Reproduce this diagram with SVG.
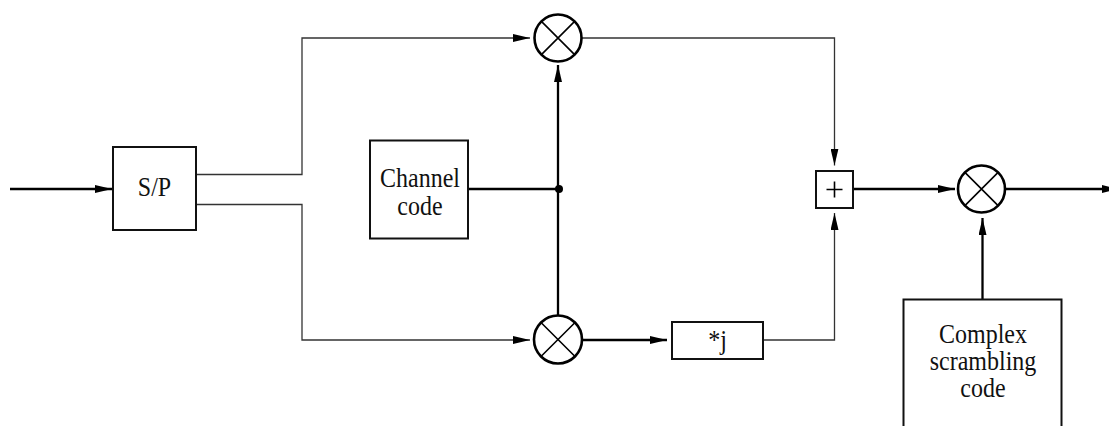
<svg xmlns="http://www.w3.org/2000/svg" width="1109" height="426" viewBox="0 0 1109 426">
<style>
.box{fill:#fff;stroke:#111;stroke-width:2}
.mul{fill:#fff;stroke:#000;stroke-width:2.6}
.x{stroke:#000;stroke-width:1.6}
.thick{fill:none;stroke:#000;stroke-width:2.3}
.thin{fill:none;stroke:#333;stroke-width:1.3}
text{font-family:"Liberation Serif","Times New Roman",serif;font-size:24px;fill:#111;text-anchor:middle}
</style>
<defs>
<marker id="ah" viewBox="0 0 17 8" refX="17" refY="4" markerWidth="17" markerHeight="8" markerUnits="userSpaceOnUse" orient="auto">
<path d="M0,0 L17,4 L0,8 z" fill="#000"/>
</marker>
</defs>
<rect width="1109" height="426" fill="#fff"/>
<g id="connectors">
<path class="thick" d="M10,189 H112" marker-end="url(#ah)"/>
<path class="thin" d="M196,174.5 H302 V38 H530" marker-end="url(#ah)"/>
<path class="thin" d="M196,204.5 H302 V340 H530" marker-end="url(#ah)"/>
<path class="thick" d="M468,189 H558"/>
<path class="thick" d="M558,189 V65" marker-end="url(#ah)"/>
<path class="thick" d="M558,189 V316"/>
<circle cx="559" cy="189" r="4" fill="#000"/>
<path class="thick" d="M582,340 H667" marker-end="url(#ah)"/>
<path class="thin" d="M763,340 H834.5 V213" marker-end="url(#ah)"/>
<path class="thin" d="M581.5,38 H834.5 V165.5" marker-end="url(#ah)"/>
<path class="thick" d="M853,189 H955" marker-end="url(#ah)"/>
<path class="thick" d="M982.5,299 V218" marker-end="url(#ah)"/>
<path class="thick" d="M1005,189 H1119" marker-end="url(#ah)"/>
</g>
<g id="sp">
<rect class="box" x="113" y="147" width="83" height="83"/>
<text transform="translate(154.5,196) scale(1,1.12)">S/P</text>
</g>
<g id="channel-code">
<rect class="box" x="370" y="140.5" width="98" height="98"/>
<text transform="translate(420,186.5) scale(1,1.12)">Channel</text>
<text transform="translate(420,215) scale(1,1.12)">code</text>
</g>
<g id="mult-top">
<circle class="mul" cx="558" cy="38" r="23.5"/>
<path class="x" d="M541.4,21.4 L574.6,54.6 M574.6,21.4 L541.4,54.6"/>
</g>
<g id="mult-bottom">
<circle class="mul" cx="558" cy="339.5" r="24"/>
<path class="x" d="M541.2,322.7 L574.8,356.3 M574.8,322.7 L541.2,356.3"/>
</g>
<g id="mul-j">
<rect class="box" x="672" y="322" width="91" height="37"/>
<text transform="translate(717.5,349) scale(1,1.12)">*j</text>
</g>
<g id="adder">
<rect class="box" x="816" y="171" width="37" height="37"/>
<path stroke="#000" stroke-width="1.6" d="M826.5,189.5 H842.5 M834.5,181.5 V197.5"/>
</g>
<g id="mult-right">
<circle class="mul" cx="981.5" cy="189" r="23.5"/>
<path class="x" d="M964.9,172.4 L998.1,205.6 M998.1,172.4 L964.9,205.6"/>
</g>
<g id="scrambling-code">
<rect class="box" x="903.5" y="299.5" width="158" height="140"/>
<text transform="translate(983,343) scale(1,1.12)">Complex</text>
<text transform="translate(983,370) scale(1,1.12)">scrambling</text>
<text transform="translate(983,396.5) scale(1,1.12)">code</text>
</g>
</svg>
